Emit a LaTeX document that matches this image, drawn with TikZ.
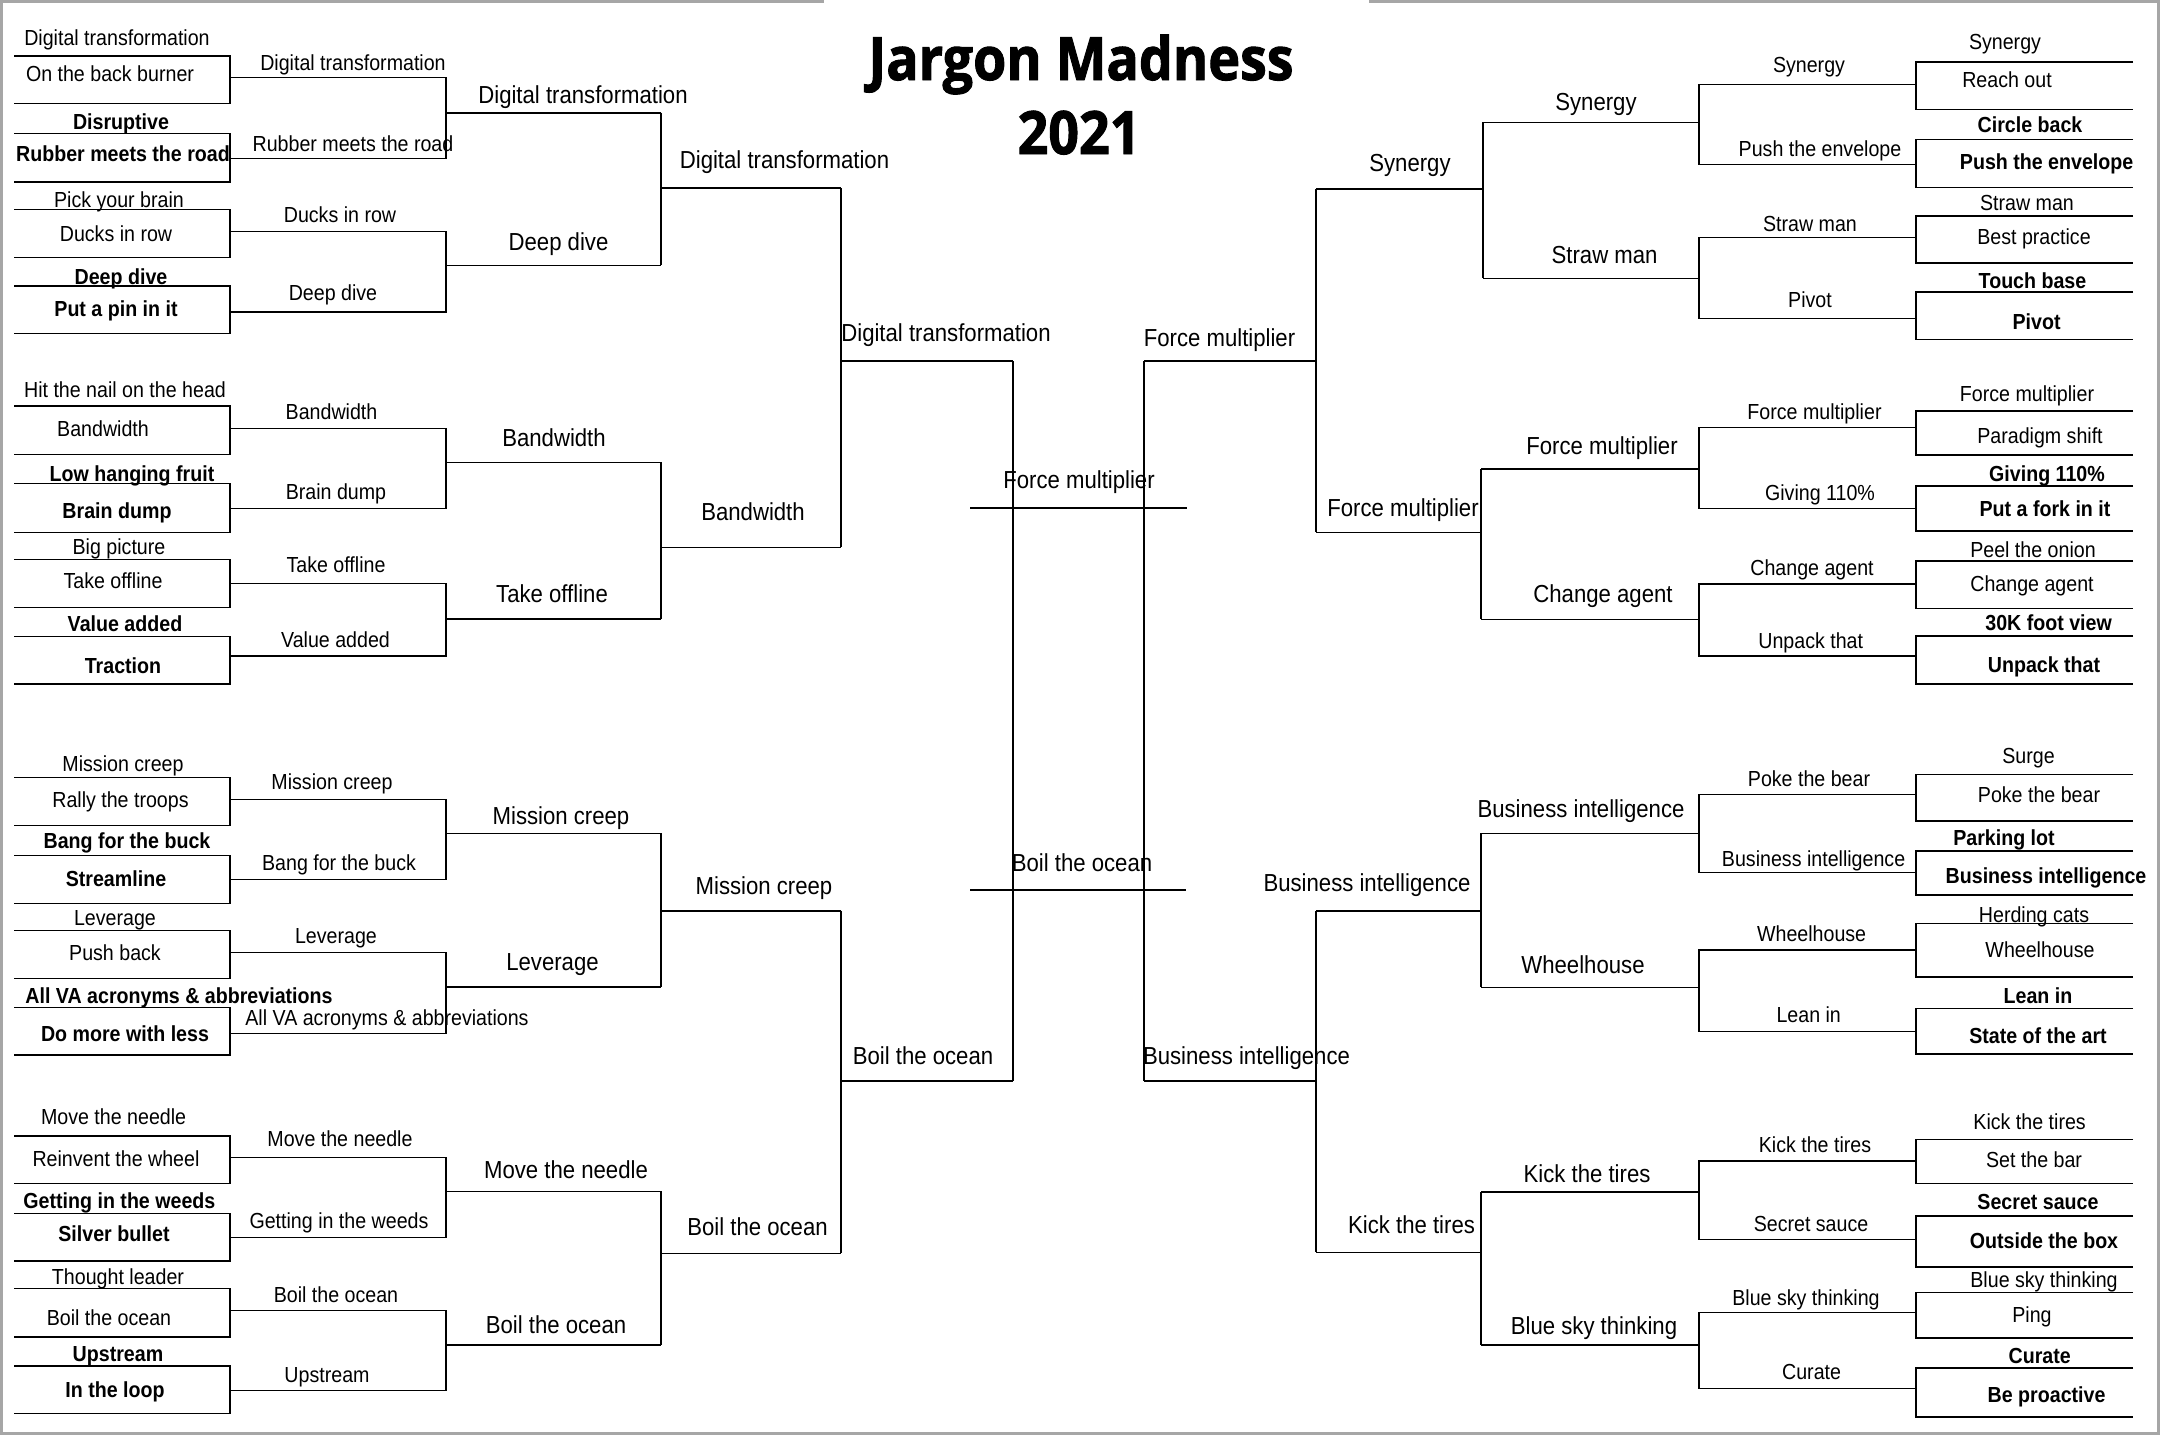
\documentclass[tikz,border=0pt]{standalone}
\usepackage{fontspec}
\setmainfont{Liberation Sans}[FakeStretch=0.9]
\newfontfamily\titlefont{Open Sans}[FakeStretch=0.9,FakeBold=1.6]
\tikzset{
  br/.style={line width=0.45pt, black},
  frm/.style={line width=0.85pt, color=black!35},
  sm/.style={font=\fontsize{6.2}{7}\selectfont, inner sep=0pt, text height=1.55mm, text depth=0pt, anchor=center},
  smb/.style={sm, font=\fontsize{6.2}{7}\selectfont\bfseries},
  lg/.style={font=\fontsize{7}{8}\selectfont, inner sep=0pt, text height=1.75mm, text depth=0pt, anchor=center},
  ttl/.style={font=\titlefont\bfseries\fontsize{17}{20}\selectfont, inner sep=0pt, anchor=base},
}
\newcommand{\lab}[5]{\node[#1] (#2) at (#3,#4) {#5};}
\newcommand{\boxl}[2]{\draw[br] (14,#1) -- (230,#1) -- (230,#2) -- (14,#2);}
\newcommand{\boxr}[2]{\draw[br] (2133,#1) -- (1916,#1) -- (1916,#2) -- (2133,#2);}
\newcommand{\brk}[6]{\draw[br] (#1,#3) -- (#2,#3) -- (#2,#4) -- (#1,#4); \draw[br] (#2,#5) -- (#6,#5);}
\newcommand{\vbr}[5]{\draw[br] (#1,#2) -- (#1,#3); \draw[br] (#1,#4) -- (#5,#4);}
\begin{document}
\begin{tikzpicture}[x=0.01cm,y=-0.01cm]
\fill[white] (0,0) rectangle (2160,1435);
\useasboundingbox (0,0) rectangle (2160,1435);
% frame
\draw[frm] (0,1.5) -- (824,1.5);
\draw[frm] (1369,1.5) -- (2160,1.5);
\draw[frm] (1.5,0) -- (1.5,1433.5) -- (2158.5,1433.5) -- (2158.5,0);
% title
\node[ttl] (t1) at (1081,80) {Jargon Madness};
\node[ttl] (t2) at (1079,154) {2021};
% ---------------- LEFT boxes
\boxl{55.7}{103.3}\boxl{133.3}{181.7}\boxl{209.3}{257.3}\boxl{285.7}{333.3}
\boxl{405.7}{454.3}\boxl{483.3}{532.3}\boxl{559.3}{607.3}\boxl{636.3}{684}
\boxl{777.3}{825.3}\boxl{855.3}{903.3}\boxl{930.3}{978.3}\boxl{1007.3}{1055}
\boxl{1135.7}{1183.3}\boxl{1213.3}{1261}\boxl{1288.3}{1336.7}\boxl{1365.7}{1413.3}
\brk{230}{446}{77.3}{158.3}{112.7}{661}
\brk{230}{446}{231.3}{311.7}{265.3}{661}
\brk{230}{446}{428.3}{508.3}{462.3}{661}
\brk{230}{446}{583.3}{656}{619}{661}
\brk{230}{446}{799.3}{879.3}{833.3}{661}
\brk{230}{446}{952.3}{1033.3}{987}{661}
\brk{230}{446}{1157.3}{1237.3}{1191.3}{661}
\brk{230}{446}{1310.3}{1390.3}{1345}{661}
\vbr{661}{112.7}{265.3}{188}{841}
\vbr{661}{462.3}{619}{547.3}{841}
\vbr{661}{833.3}{987}{910.7}{841}
\vbr{661}{1191.3}{1345}{1253.3}{841}
\vbr{841}{188}{547.3}{361}{1013}
\vbr{841}{910.7}{1253.3}{1081}{1013}
\draw[br] (1013,361) -- (1013,1081);
% ---------------- RIGHT boxes
\boxr{61.7}{109.3}\boxr{139.3}{187.3}\boxr{215.7}{262.7}\boxr{291.7}{339.3}
\boxr{410.7}{455}\boxr{486}{531}\boxr{560.7}{608.3}\boxr{635.7}{684}
\boxr{774.3}{821}\boxr{850.7}{895}\boxr{923.3}{976.7}\boxr{1008.3}{1054}
\boxr{1139.3}{1183.3}\boxr{1215.7}{1266.7}\boxr{1292.3}{1337.7}\boxr{1367.7}{1416.7}
\brk{1916}{1699}{84.3}{164.3}{122.3}{1483}
\brk{1916}{1699}{237.3}{318.3}{278.3}{1483}
\brk{1916}{1699}{427.3}{508.3}{469}{1481}
\brk{1916}{1699}{584}{656}{619.3}{1481}
\brk{1916}{1699}{794.3}{872.3}{833.3}{1481}
\brk{1916}{1699}{950}{1031.3}{987.3}{1481}
\brk{1916}{1699}{1160.7}{1239.3}{1191.7}{1481}
\brk{1916}{1699}{1312.3}{1388.3}{1345}{1481}
\vbr{1483}{122.3}{278.3}{189}{1316}
\vbr{1481}{469}{619.3}{532.3}{1316}
\vbr{1481}{833.3}{987.3}{910.7}{1316}
\vbr{1481}{1191.7}{1345}{1252.3}{1316}
\vbr{1316}{189}{532.3}{361}{1144}
\vbr{1316}{910.7}{1252.3}{1081}{1144}
\draw[br] (1144,361) -- (1144,1081);
% centre
\draw[br] (970,508) -- (1187,508);
\draw[br] (970,890) -- (1186,890);
% ---------------- LEFT round 1 texts
\lab{sm}{a1}{117}{38}{Digital transformation}
\lab{sm}{a2}{110}{73.3}{On the back burner}
\lab{smb}{a3}{121}{121.7}{Disruptive}
\lab{smb}{a4}{123}{153.3}{Rubber meets the road}
\lab{sm}{a5}{119}{200}{Pick your brain}
\lab{sm}{a6}{116}{233.3}{Ducks in row}
\lab{smb}{a7}{121}{276.7}{Deep dive}
\lab{smb}{a8}{116}{308.3}{Put a pin in it}
\lab{sm}{a9}{125}{390}{Hit the nail on the head}
\lab{sm}{a10}{103}{428.3}{Bandwidth}
\lab{smb}{a11}{132}{473.3}{Low hanging fruit}
\lab{smb}{a12}{117}{510.7}{Brain dump}
\lab{sm}{a13}{119}{546.7}{Big picture}
\lab{sm}{a14}{113}{581}{Take offline}
\lab{smb}{a15}{125}{624}{Value added}
\lab{smb}{a16}{123}{666}{Traction}
\lab{sm}{a17}{123}{763.3}{Mission creep}
\lab{sm}{a18}{120.5}{800}{Rally the troops}
\lab{smb}{a19}{127}{841}{Bang for the buck}
\lab{smb}{a20}{116}{879}{Streamline}
\lab{sm}{a21}{115}{917.7}{Leverage}
\lab{sm}{a22}{115}{952.7}{Push back}
\lab{smb}{a23}{179}{996}{All VA acronyms \& abbreviations}
\lab{smb}{a24}{125}{1033.3}{Do more with less}
\lab{sm}{a25}{113.6}{1116.7}{Move the needle}
\lab{sm}{a26}{116}{1159}{Reinvent the wheel}
\lab{smb}{a27}{119.4}{1201}{Getting in the weeds}
\lab{smb}{a28}{114}{1234}{Silver bullet}
\lab{sm}{a29}{118}{1276.7}{Thought leader}
\lab{sm}{a30}{109}{1317.7}{Boil the ocean}
\lab{smb}{a31}{118}{1353.3}{Upstream}
\lab{smb}{a32}{115}{1390}{In the loop}
% LEFT round 2
\lab{sm}{b1}{353}{62.7}{Digital transformation}
\lab{sm}{b2}{353}{143.3}{Rubber meets the road}
\lab{sm}{b3}{340}{215}{Ducks in row}
\lab{sm}{b4}{333}{292.7}{Deep dive}
\lab{sm}{b5}{331.5}{411.7}{Bandwidth}
\lab{sm}{b6}{336}{491.7}{Brain dump}
\lab{sm}{b7}{336}{565}{Take offline}
\lab{sm}{b8}{335.5}{640}{Value added}
\lab{sm}{b9}{332}{781.7}{Mission creep}
\lab{sm}{b10}{339}{862.7}{Bang for the buck}
\lab{sm}{b11}{336}{935.7}{Leverage}
\lab{sm}{b12}{387}{1017.7}{All VA acronyms \& abbreviations}
\lab{sm}{b13}{340}{1139}{Move the needle}
\lab{sm}{b14}{339}{1220.7}{Getting in the weeds}
\lab{sm}{b15}{336}{1295}{Boil the ocean}
\lab{sm}{b16}{327}{1375}{Upstream}
% LEFT round 3
\lab{lg}{c1}{583}{95}{Digital transformation}
\lab{lg}{c2}{558.5}{241.7}{Deep dive}
\lab{lg}{c3}{554}{437.7}{Bandwidth}
\lab{lg}{c4}{552}{593.3}{Take offline}
\lab{lg}{c5}{561}{816}{Mission creep}
\lab{lg}{c6}{552.5}{961.7}{Leverage}
\lab{lg}{c7}{566}{1169.3}{Move the needle}
\lab{lg}{c8}{556}{1325}{Boil the ocean}
% LEFT quarter / semi
\lab{lg}{d1}{784.5}{160}{Digital transformation}
\lab{lg}{d2}{753}{512}{Bandwidth}
\lab{lg}{d3}{764}{886}{Mission creep}
\lab{lg}{d4}{757.5}{1227}{Boil the ocean}
\lab{lg}{e1}{946}{333}{Digital transformation}
\lab{lg}{e2}{923}{1056}{Boil the ocean}
% centre
\lab{lg}{f1}{1079}{480}{Force multiplier}
\lab{lg}{f2}{1082}{863}{Boil the ocean}
% RIGHT semi / quarter
\lab{lg}{g1}{1219.5}{337.5}{Force multiplier}
\lab{lg}{g2}{1246.5}{1056}{Business intelligence}
\lab{lg}{h1}{1410}{162.5}{Synergy}
\lab{lg}{h2}{1403}{508}{Force multiplier}
\lab{lg}{h3}{1367}{883}{Business intelligence}
\lab{lg}{h4}{1411.5}{1225}{Kick the tires}
% RIGHT round 3
\lab{lg}{i1}{1596}{101.7}{Synergy}
\lab{lg}{i2}{1604.6}{255}{Straw man}
\lab{lg}{i3}{1602}{446}{Force multiplier}
\lab{lg}{i4}{1603}{594}{Change agent}
\lab{lg}{i5}{1581}{808.3}{Business intelligence}
\lab{lg}{i6}{1583}{965}{Wheelhouse}
\lab{lg}{i7}{1587}{1173.3}{Kick the tires}
\lab{lg}{i8}{1594}{1325.7}{Blue sky thinking}
% RIGHT round 2
\lab{sm}{j1}{1809}{65}{Synergy}
\lab{sm}{j2}{1820}{148.3}{Push the envelope}
\lab{sm}{j3}{1810}{223.3}{Straw man}
\lab{sm}{j4}{1810}{299.3}{Pivot}
\lab{sm}{j5}{1814.5}{411.7}{Force multiplier}
\lab{sm}{j6}{1820}{492.3}{Giving 110\%}
\lab{sm}{j7}{1812}{567.3}{Change agent}
\lab{sm}{j8}{1810.7}{641}{Unpack that}
\lab{sm}{j9}{1809}{778.3}{Poke the bear}
\lab{sm}{j10}{1813.6}{858.3}{Business intelligence}
\lab{sm}{j11}{1811.6}{934}{Wheelhouse}
\lab{sm}{j12}{1808.7}{1014.3}{Lean in}
\lab{sm}{j13}{1815}{1144.3}{Kick the tires}
\lab{sm}{j14}{1811}{1223.3}{Secret sauce}
\lab{sm}{j15}{1806}{1297.7}{Blue sky thinking}
\lab{sm}{j16}{1811.6}{1371.7}{Curate}
% RIGHT round 1
\lab{sm}{k1}{2005}{41.7}{Synergy}
\lab{sm}{k2}{2007}{79.3}{Reach out}
\lab{smb}{k3}{2030}{125}{Circle back}
\lab{smb}{k4}{2046.6}{161.7}{Push the envelope}
\lab{sm}{k5}{2027}{202.3}{Straw man}
\lab{sm}{k6}{2034}{236.7}{Best practice}
\lab{smb}{k7}{2032.5}{281}{Touch base}
\lab{smb}{k8}{2036.6}{321.7}{Pivot}
\lab{sm}{k9}{2027}{393.3}{Force multiplier}
\lab{sm}{k10}{2040}{436}{Paradigm shift}
\lab{smb}{k11}{2047}{474}{Giving 110\%}
\lab{smb}{k12}{2045}{508.3}{Put a fork in it}
\lab{sm}{k13}{2033}{550}{Peel the onion}
\lab{sm}{k14}{2032}{583.3}{Change agent}
\lab{smb}{k15}{2048.6}{622.7}{30K foot view}
\lab{smb}{k16}{2044}{665}{Unpack that}
\lab{sm}{k17}{2028.5}{756}{Surge}
\lab{sm}{k18}{2039}{795}{Poke the bear}
\lab{smb}{k19}{2004}{837.3}{Parking lot}
\lab{smb}{k20}{2046}{876}{Business intelligence}
\lab{sm}{k21}{2034}{914.3}{Herding cats}
\lab{sm}{k22}{2040}{949.3}{Wheelhouse}
\lab{smb}{k23}{2038}{996}{Lean in}
\lab{smb}{k24}{2038}{1036}{State of the art}
\lab{sm}{k25}{2029.6}{1121.7}{Kick the tires}
\lab{sm}{k26}{2034}{1160}{Set the bar}
\lab{smb}{k27}{2038}{1201.7}{Secret sauce}
\lab{smb}{k28}{2044}{1240.7}{Outside the box}
\lab{sm}{k29}{2044}{1280}{Blue sky thinking}
\lab{sm}{k30}{2032}{1315}{Ping}
\lab{smb}{k31}{2039.7}{1355.7}{Curate}
\lab{smb}{k32}{2046.6}{1395}{Be proactive}
\end{tikzpicture}
\end{document}
